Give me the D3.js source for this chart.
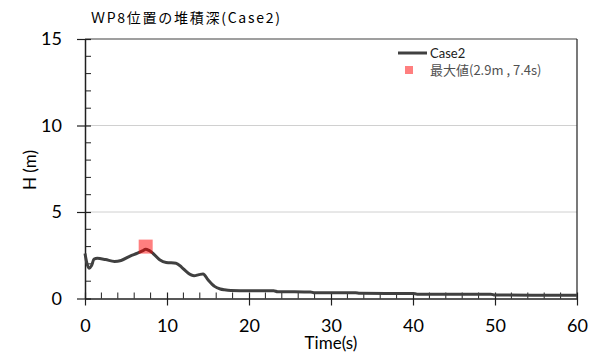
<!DOCTYPE html>
<html><head><meta charset="utf-8">
<script src="https://cdn.jsdelivr.net/npm/d3@7/dist/d3.min.js"></script>
<style>body{margin:0;background:#fff}svg{display:block}</style>
</head><body>
<svg id="c" width="599" height="356"></svg>
<script>
const timeS = [0, 0.2, 0.5, 0.8, 1.1, 1.5, 2.5, 3.6, 4.4, 5.5, 6.4, 7.0, 7.4, 7.8, 8.3, 9.1, 9.9, 11.1, 11.8, 12.5, 13.3, 13.9, 14.4, 15.0, 15.8, 16.5, 17.0, 17.8, 20, 23, 23.5, 27.5, 28, 33, 33.5, 40, 40.5, 49.5, 50, 60];
const depthH = [2.6, 2.1, 1.75, 1.9, 2.28, 2.32, 2.25, 2.14, 2.2, 2.45, 2.62, 2.75, 2.85, 2.78, 2.6, 2.24, 2.08, 2.04, 1.8, 1.5, 1.32, 1.38, 1.42, 1.08, 0.7, 0.55, 0.5, 0.46, 0.45, 0.45, 0.39, 0.38, 0.33, 0.33, 0.3, 0.29, 0.25, 0.25, 0.2, 0.19];
const maxPoint = [{t: 7.4, h: 3.0}];
const xTicks = [0, 10, 20, 30, 40, 50, 60];
const yTicks = [0, 5, 10, 15];
const seriesName = "Case2";
const maxLabel = "最大値(2.9m , 7.4s)";
const titleText = "ＷP8位置の堆積深(Case2)";

const svg = d3.select("#c");
const L = 85, R = 577, T = 39, B = 298.5;
const x = d3.scaleLinear().domain([0, 60]).range([L, R]);
const y = d3.scaleLinear().domain([0, 15]).range([B, T]);
const font = "Lato, 'Noto Sans', sans-serif";
const dark = "#404040";

// gridlines
svg.append("g").selectAll("line").data([5, 10]).join("line")
  .attr("x1", L).attr("x2", R).attr("y1", d => y(d)).attr("y2", d => y(d))
  .attr("stroke", "#d0d0d0").attr("stroke-width", 1);

// frame top/right
svg.append("line").attr("x1", L).attr("x2", R).attr("y1", T).attr("y2", T).attr("stroke", dark).attr("stroke-width", 1.2);
svg.append("line").attr("x1", R).attr("x2", R).attr("y1", T).attr("y2", B).attr("stroke", "#202020").attr("stroke-width", 1.2);

// minor ticks
const xMinor = d3.range(0, 61, 2).filter(v => v % 10 !== 0);
svg.append("g").selectAll("line").data(xMinor).join("line")
  .attr("x1", d => x(d)).attr("x2", d => x(d)).attr("y1", B).attr("y2", B - 6)
  .attr("stroke", "#202020").attr("stroke-width", 1);
const yMinor = d3.range(0, 16, 1).filter(v => v % 5 !== 0);
svg.append("g").selectAll("line").data(yMinor).join("line")
  .attr("x1", L).attr("x2", L + 6).attr("y1", d => y(d)).attr("y2", d => y(d))
  .attr("stroke", "#202020").attr("stroke-width", 1);

// axes
const xAxis = d3.axisBottom(x).tickValues(xTicks).tickSizeInner(7).tickSizeOuter(0).tickPadding(14);
const gx = svg.append("g").attr("transform", `translate(0,${B})`).call(xAxis);
gx.select(".domain").attr("stroke", "#202020").attr("stroke-width", 1.5);
gx.selectAll(".tick line").attr("y1", -6).attr("stroke", "#202020").attr("stroke-width", 1.2);
gx.selectAll(".tick text").attr("font-family", font).attr("font-size", 18).attr("fill", "#000");

const yAxis = d3.axisLeft(y).tickValues(yTicks).tickSizeInner(8).tickSizeOuter(0).tickPadding(15);
const gy = svg.append("g").attr("transform", `translate(${L},0)`).call(yAxis);
gy.select(".domain").attr("stroke", "#202020").attr("stroke-width", 1.5);
gy.selectAll(".tick line").attr("x1", 6).attr("stroke", "#202020").attr("stroke-width", 1.2);
gy.selectAll(".tick text").attr("font-family", font).attr("font-size", 18).attr("fill", "#000");

// line
const pts = timeS.map((t, i) => ({t, h: depthH[i]}));
const line = d3.line().x(d => x(d.t)).y(d => y(d.h)).curve(d3.curveMonotoneX);
svg.append("path").datum(pts).attr("d", line).attr("fill", "none")
  .attr("stroke", dark).attr("stroke-width", 3).attr("stroke-linejoin", "round");

// max marker
svg.append("g").selectAll("rect").data(maxPoint).join("rect")
  .attr("x", d => x(d.t) - 7).attr("y", d => y(d.h) - 7).attr("width", 14).attr("height", 14)
  .attr("fill", "#ff0000").attr("fill-opacity", 0.5);

// title
svg.append("text").attr("x", 91).attr("y", 23).attr("font-family", "'Noto Sans CJK JP', sans-serif")
  .attr("font-size", 14).attr("fill", "#000")
  .attr("textLength", 189).attr("lengthAdjust", "spacing").text(titleText);

// axis titles
svg.append("text").attr("transform", "translate(36,170) rotate(-90)").attr("text-anchor", "middle")
  .attr("font-family", font).attr("font-size", 17).attr("fill", "#000").text("H (m)");
svg.append("text").attr("x", 331).attr("y", 349).attr("text-anchor", "middle")
  .attr("font-family", font).attr("font-size", 17).attr("fill", "#000").text("Time(s)");

// legend
const lg = svg.append("g");
lg.append("line").attr("x1", 398).attr("x2", 427).attr("y1", 53).attr("y2", 53).attr("stroke", dark).attr("stroke-width", 3);
lg.append("text").attr("x", 430).attr("y", 58).attr("font-family", font).attr("font-size", 13).attr("fill", "#202020").text(seriesName);
lg.append("rect").attr("x", 405).attr("y", 66).attr("width", 8).attr("height", 8).attr("fill", "#ff0000").attr("fill-opacity", 0.5);
lg.append("text").attr("x", 430).attr("y", 75).attr("font-family", "'Noto Sans CJK JP', sans-serif").attr("font-size", 13).attr("fill", "#505050").text(maxLabel);
</script>
</body></html>
